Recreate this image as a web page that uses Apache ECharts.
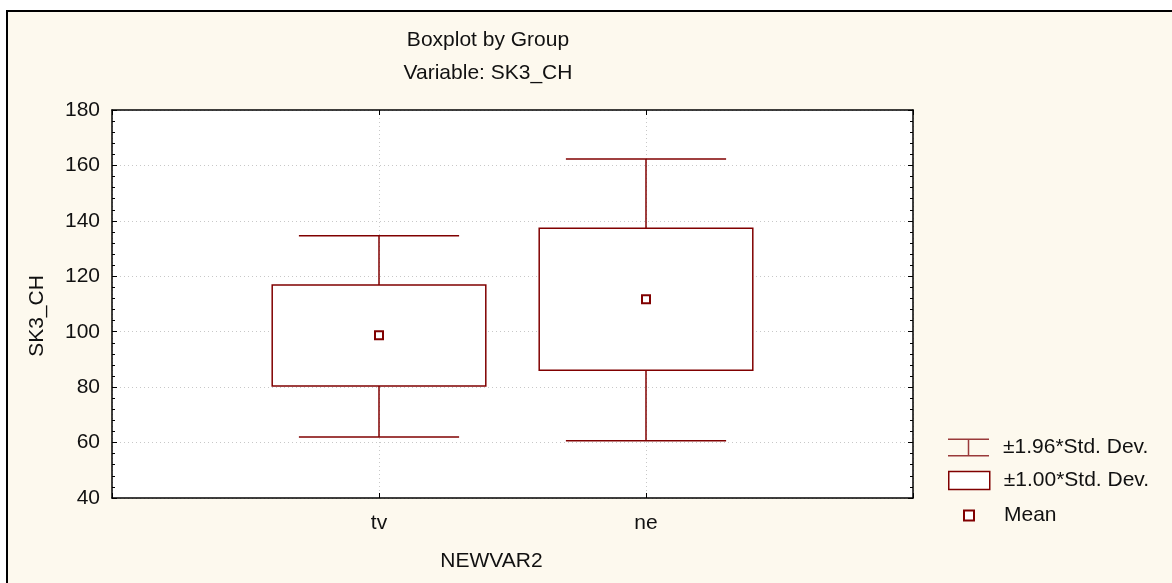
<!DOCTYPE html>
<html>
<head>
<meta charset="utf-8">
<script src="https://cdn.jsdelivr.net/npm/echarts@6/dist/echarts.min.js"></script>
<style>html,body{margin:0;padding:0;background:#fff}#c{width:1172px;height:583px}</style>
</head>
<body>
<div id="c"></div>
<script>
const categories = ['tv', 'ne'];
const means = [98.7, 111.7];
const sd1Low = [80.4, 86.1];
const sd1High = [116.9, 137.3];
const sd196Low = [62.0, 60.7];
const sd196High = [134.6, 162.3];
const yTicks = [40, 180, 20];

const RED = '#800000';
const FONT = 'Liberation Sans, Arial, sans-serif';
const TXT = '#111';
const FS = 21;

const axisCats = [' ', ...categories, '  '];
const whiskerData = categories.map((c, i) => [c, sd196Low[i], sd196High[i]]);
const boxData = categories.map((c, i) => [c, sd1Low[i], sd1High[i]]);
const meanData = categories.map((c, i) => [c, means[i]]);

const chart = echarts.init(document.getElementById('c'), null, {renderer: 'canvas'});

const xBase = {
  type: 'category', data: axisCats, boundaryGap: false,
  axisLine: {lineStyle: {color: '#000', width: 1.5}},
  axisTick: {inside: true, length: 5, lineStyle: {color: '#000'}},
  splitLine: {show: true, lineStyle: {color: '#c8c8c8', type: [1, 3], width: 1}}
};
const yBase = {
  type: 'value', min: yTicks[0], max: yTicks[1], interval: yTicks[2],
  axisLine: {show: true, lineStyle: {color: '#000', width: 1.5}},
  axisTick: {show: true, inside: true, length: 5, lineStyle: {color: '#000'}},
  minorTick: {show: true, splitNumber: 5, length: 3, lineStyle: {color: '#000'}},
  splitLine: {show: true, lineStyle: {color: '#c8c8c8', type: [1, 3], width: 1}}
};

chart.setOption({
  backgroundColor: '#fff',
  animation: false,
  graphic: [{
    type: 'rect', z: -10,
    shape: {x: 7, y: 11, width: 1170, height: 580},
    style: {fill: '#FDF9EE', stroke: '#000', lineWidth: 2}
  }],
  title: [
    {text: 'Boxplot by Group', left: 488, top: 30, textAlign: 'center', padding: 0,
     textStyle: {fontFamily: FONT, fontSize: FS, fontWeight: 'normal', color: TXT}},
    {text: 'Variable: SK3_CH', left: 488, top: 63, textAlign: 'center', padding: 0,
     textStyle: {fontFamily: FONT, fontSize: FS, fontWeight: 'normal', color: TXT}}
  ],
  grid: {left: 112, top: 110, right: 259, bottom: 85, show: true, backgroundColor: '#fff', borderWidth: 0},
  xAxis: [
    Object.assign({}, xBase, {
      position: 'bottom',
      name: 'NEWVAR2', nameLocation: 'middle', nameGap: 53,
      nameTextStyle: {fontFamily: FONT, fontSize: FS, color: TXT, padding: [0, 42, 0, 0]},
      axisLabel: {fontFamily: FONT, fontSize: FS, color: TXT, margin: 15}
    }),
    Object.assign({}, xBase, {position: 'top', axisLabel: {show: false}, splitLine: {show: false}})
  ],
  yAxis: [
    Object.assign({}, yBase, {
      position: 'left',
      name: 'SK3_CH', nameLocation: 'middle', nameGap: 64, nameRotate: 90,
      nameTextStyle: {fontFamily: FONT, fontSize: FS, color: TXT, padding: [0, 24, 0, 0]},
      axisLabel: {fontFamily: FONT, fontSize: FS, color: TXT, margin: 12}
    }),
    Object.assign({}, yBase, {position: 'right', axisLabel: {show: false}, splitLine: {show: false}})
  ],
  legend: [
    {left: 948, top: 437, padding: 0, itemWidth: 41, itemHeight: 18, selectedMode: false,
     textStyle: {fontFamily: FONT, fontSize: FS, color: TXT, padding: [0, 0, 0, 9]},
     data: [{name: '±1.96*Std. Dev.',
             icon: 'path://M0,0H41V1.5H0Z M19.75,0H21.25V18H19.75Z M0,16.5H41V18H0Z',
             itemStyle: {color: '#9a3a3a', borderWidth: 0}}]},
    {left: 948, top: 470, padding: 0, itemWidth: 41, itemHeight: 18, selectedMode: false,
     textStyle: {fontFamily: FONT, fontSize: FS, color: TXT, padding: [0, 0, 0, 9]},
     data: [{name: '±1.00*Std. Dev.', icon: 'rect',
             itemStyle: {color: '#fff', borderColor: RED, borderWidth: 1.5}}]},
    {left: 963, top: 505, padding: 0, itemWidth: 10, itemHeight: 10, selectedMode: false,
     textStyle: {fontFamily: FONT, fontSize: FS, color: TXT, padding: [0, 0, 0, 25]},
     data: [{name: 'Mean', icon: 'rect',
             itemStyle: {color: '#fff', borderColor: RED, borderWidth: 2}}]}
  ],
  series: [
    {
      name: '±1.96*Std. Dev.', type: 'custom', xAxisIndex: 0, yAxisIndex: 0,
      itemStyle: {color: RED},
      encode: {x: 0, y: [1, 2]},
      data: whiskerData,
      renderItem: function (params, api) {
        const lo = api.coord([api.value(0), api.value(1)]);
        const hi = api.coord([api.value(0), api.value(2)]);
        const bw = api.size([1, 0])[0];
        const half = bw * 0.3;
        const style = {stroke: RED, lineWidth: 1.5, fill: null};
        return {type: 'group', children: [
          {type: 'line', shape: {x1: hi[0] - half, y1: hi[1], x2: hi[0] + half, y2: hi[1]}, style: style},
          {type: 'line', shape: {x1: lo[0] - half, y1: lo[1], x2: lo[0] + half, y2: lo[1]}, style: style},
          {type: 'line', shape: {x1: hi[0], y1: hi[1], x2: lo[0], y2: lo[1]}, style: style}
        ]};
      }
    },
    {
      name: '±1.00*Std. Dev.', type: 'custom', xAxisIndex: 0, yAxisIndex: 0,
      itemStyle: {color: RED},
      encode: {x: 0, y: [1, 2]},
      data: boxData,
      z: 3,
      renderItem: function (params, api) {
        const lo = api.coord([api.value(0), api.value(1)]);
        const hi = api.coord([api.value(0), api.value(2)]);
        const bw = api.size([1, 0])[0];
        const half = bw * 0.4;
        return {type: 'rect',
          shape: {x: hi[0] - half, y: hi[1], width: half * 2, height: lo[1] - hi[1]},
          style: {fill: '#fff', stroke: RED, lineWidth: 1.5}};
      }
    },
    {
      name: 'Mean', type: 'scatter', xAxisIndex: 0, yAxisIndex: 0, z: 5,
      symbol: 'rect', symbolSize: 8,
      itemStyle: {color: '#fff', borderColor: RED, borderWidth: 2, opacity: 1},
      data: meanData
    }
  ]
});
</script>
</body>
</html>
